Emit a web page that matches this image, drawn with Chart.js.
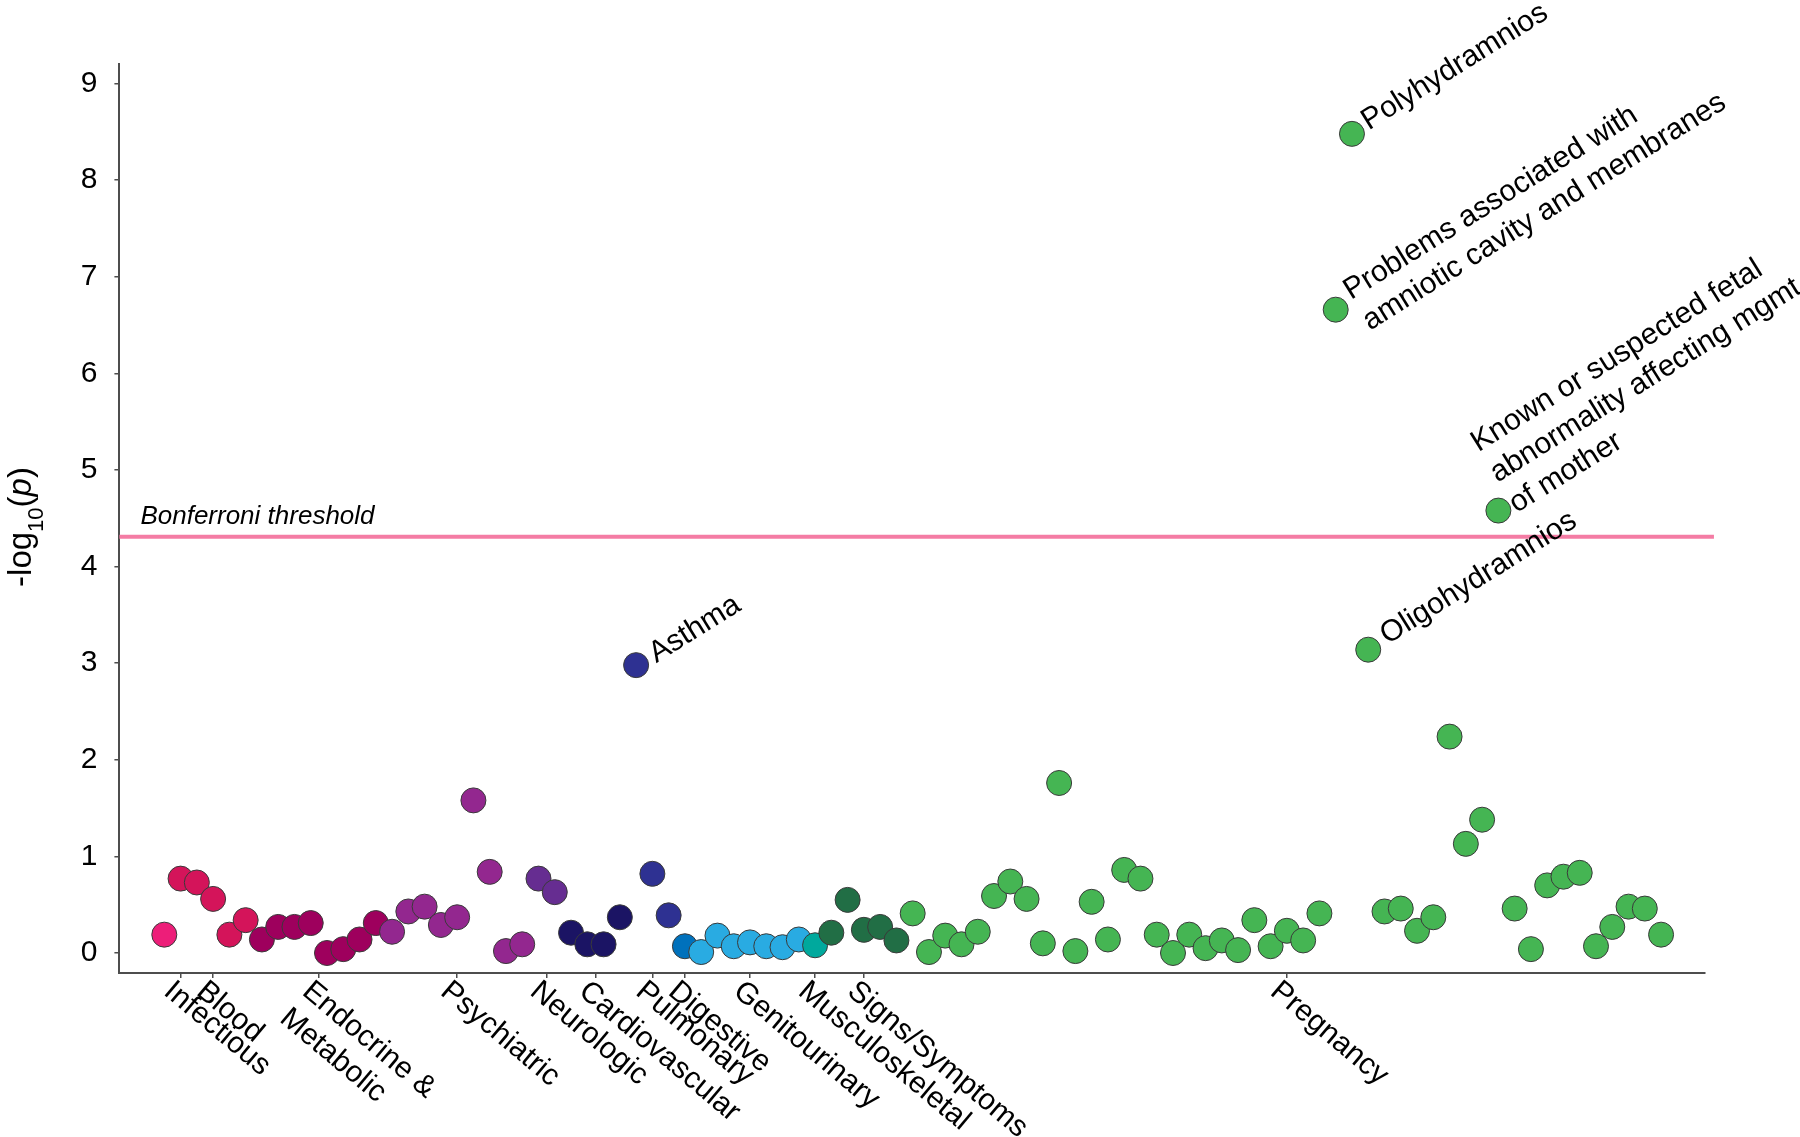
<!DOCTYPE html>
<html lang="en">
<head>
<meta charset="UTF-8">
<title>PheWAS plot</title>
<script src="https://cdn.jsdelivr.net/npm/chart.js"></script>
<style>
  body { margin: 0; background: #fff; }
  #wrap { width: 1800px; height: 1137px; }
</style>
</head>
<body>
<div id="wrap"><canvas id="phewas" width="1800" height="1137"></canvas></div>
<script>
// phenotype groups, in plot order
const groups = ['Infectious', 'Blood', 'Endocrine &\nMetabolic', 'Psychiatric', 'Neurologic', 'Cardiovascular',
  'Pulmonary', 'Digestive', 'Genitourinary', 'Musculoskeletal', 'Signs/Symptoms', 'Pregnancy'];
const groupSizes = [1, 5, 8, 9, 2, 4, 3, 1, 7, 1, 5, 47];
const groupTicks = [2, 4, 10.5, 19, 24.5, 27.5, 31, 33, 37, 41, 44, 70];

// -log10(p) per phenotype, x = 1..93
const pValues = [
  0.19, 0.77, 0.73, 0.56, 0.19, 0.34, 0.14, 0.27, 0.27, 0.31,
  0.00, 0.04, 0.14, 0.31, 0.22, 0.43, 0.48, 0.29, 0.37, 1.58,
  0.84, 0.02, 0.09, 0.77, 0.63, 0.21, 0.09, 0.09, 0.37, 2.98,
  0.82, 0.39, 0.07, 0.01, 0.18, 0.07, 0.11, 0.07, 0.06, 0.14,
  0.08, 0.21, 0.55, 0.24, 0.27, 0.13, 0.41, 0.01, 0.18, 0.09,
  0.22, 0.59, 0.74, 0.56, 0.10, 1.76, 0.02, 0.53, 0.14, 0.86,
  0.77, 0.19, 0.00, 0.19, 0.05, 0.13, 0.03, 0.34, 0.07, 0.23,
  0.13, 0.41, 6.66, 8.48, 3.14, 0.43, 0.46, 0.23, 0.37, 2.24,
  1.13, 1.38, 4.58, 0.46, 0.04, 0.70, 0.79, 0.83, 0.07, 0.27,
  0.48, 0.46, 0.19
];

const bonferroni = 4.31;
const thresholdSpan = [-1.76, 96.25];
const yTicks = [0, 1, 2, 3, 4, 5, 6, 7, 8, 9];

// labelled phenotypes (x position) and their text
const labelIdx = [30, 73, 74, 75, 83];
const labelText = [
  ['Asthma'],
  ['Problems associated with', 'amniotic cavity and membranes'],
  ['Polyhydramnios'],
  ['Oligohydramnios'],
  ['Known or suspected fetal', 'abnormality affecting mgmt', 'of mother']
];

// styling
const groupColors = ['#ed1e79', '#d4145a', '#9e005d', '#93278f', '#662d91', '#1b1464',
  '#2e3192', '#0071bc', '#29abe2', '#00a99d', '#216e45', '#45b553'];
const labelAlong = [18, 18, 16, 19, 14];
const labelShift = [9, 0, 6, 6, -60];
const FONT = 'Arial, "Liberation Sans", sans-serif';

const pointColors = [];
groupSizes.forEach((n, g) => { for (let k = 0; k < n; k++) pointColors.push(groupColors[g]); });

const overlay = {
  id: 'overlay',
  afterDraw(chart) {
    const { ctx, chartArea, scales: { x, y } } = chart;
    ctx.save();
    ctx.fillStyle = '#000';

    // threshold caption
    ctx.font = 'italic 26px ' + FONT;
    ctx.textAlign = 'left';
    ctx.textBaseline = 'alphabetic';
    ctx.fillText('Bonferroni threshold', chartArea.left + 21, y.getPixelForValue(bonferroni) - 13);

    // point labels, tilted up
    ctx.font = '30px ' + FONT;
    labelIdx.forEach((idx, k) => {
      ctx.save();
      ctx.translate(x.getPixelForValue(idx), y.getPixelForValue(pValues[idx - 1]));
      ctx.rotate(-32 * Math.PI / 180);
      labelText[k].forEach((line, j) => ctx.fillText(line, labelAlong[k], labelShift[k] + j * 36));
      ctx.restore();
    });

    // category labels, tilted down
    ctx.textBaseline = 'top';
    groups.forEach((name, g) => {
      ctx.save();
      ctx.translate(x.getPixelForValue(groupTicks[g]) - 3, chartArea.bottom + 3);
      ctx.rotate(40 * Math.PI / 180);
      name.split('\n').forEach((line, j) => ctx.fillText(line, 0, j * 35));
      ctx.restore();
    });

    // y title: -log10(p)
    const parts = [['-log', '33px', 0], ['10', '22px', 12], ['(', '33px', 0], ['p', 'italic 33px', 0], [')', '33px', 0]];
    ctx.textBaseline = 'alphabetic';
    let total = 0;
    parts.forEach(p => { ctx.font = p[1] + ' ' + FONT; total += ctx.measureText(p[0]).width; });
    ctx.translate(31, 527);
    ctx.rotate(-Math.PI / 2);
    let cx = -total / 2;
    parts.forEach(p => {
      ctx.font = p[1] + ' ' + FONT;
      ctx.fillText(p[0], cx, p[2]);
      cx += ctx.measureText(p[0]).width;
    });
    ctx.restore();
  }
};

new Chart(document.getElementById('phewas').getContext('2d'), {
  type: 'scatter',
  data: {
    datasets: [
      {
        data: pValues.map((v, i) => ({ x: i + 1, y: v })),
        backgroundColor: pointColors,
        borderColor: '#3a3a3a',
        borderWidth: 1,
        pointRadius: 12.5,
        pointHoverRadius: 12.5,
        clip: false,
        order: 1
      },
      {
        type: 'line',
        data: thresholdSpan.map(v => ({ x: v, y: bonferroni })),
        borderColor: '#f47ca4',
        borderWidth: 4,
        pointRadius: 0,
        clip: false,
        order: 2
      }
    ]
  },
  options: {
    responsive: false,
    devicePixelRatio: 1,
    animation: false,
    events: [],
    layout: { padding: { left: 0, right: 95, top: 64.3, bottom: 124 } },
    plugins: { legend: { display: false }, tooltip: { enabled: false } },
    scales: {
      x: {
        type: 'linear',
        min: -1.76,
        max: 95.7,
        afterBuildTicks: s => { s.ticks = groupTicks.map(v => ({ value: v })); },
        afterFit: s => { s.height = 40; },
        border: { color: '#4d4d4d', width: 2 },
        grid: { drawOnChartArea: false, drawTicks: true, tickLength: 5, color: '#4d4d4d', lineWidth: 1.5 },
        ticks: { display: false }
      },
      y: {
        type: 'linear',
        min: -0.207,
        max: 9.2,
        afterBuildTicks: s => { s.ticks = yTicks.map(v => ({ value: v })); },
        afterFit: s => { s.width = 119.4; },
        border: { color: '#4d4d4d', width: 2 },
        grid: { drawOnChartArea: false, drawTicks: true, tickLength: 5, color: '#4d4d4d', lineWidth: 1.5 },
        ticks: { font: { family: FONT, size: 30 }, color: '#000', padding: 17 }
      }
    }
  },
  plugins: [overlay]
});
</script>
</body>
</html>
